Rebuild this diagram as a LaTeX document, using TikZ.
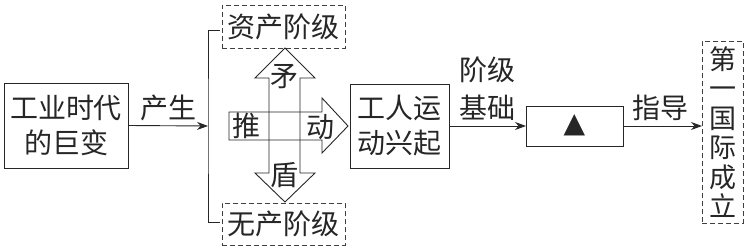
\documentclass[tikz,border=0pt]{standalone}
\usepackage{fontspec}
\setmainfont{Noto Sans CJK SC}
\newfontfamily\symfont{DejaVu Sans}
\usetikzlibrary{arrows.meta}
\begin{document}
\begin{tikzpicture}[x=1pt,y=-1pt,
  every node/.style={inner sep=0pt,outer sep=0pt,text=black!85,font=\fontsize{28}{35}\selectfont},
  solidbox/.style={draw=black!85,line width=0.9pt,align=center},
  dashbox/.style={draw=black!75,line width=0.9pt,dash pattern=on 5pt off 3pt,align=center},
  conn/.style={draw=black!85,line width=0.9pt,-{Stealth[length=11pt,width=8pt]}},
  line/.style={draw=black!85,line width=0.9pt},
  lbl/.style={align=center}]
\useasboundingbox (0,0) rectangle (753,249);
% boxes
\node[solidbox,minimum width=124pt,minimum height=85pt] (a) at (66,125.5) {工业时代\\的巨变};
\node[dashbox,minimum width=123pt,minimum height=43pt] (top) at (283.5,26.5) {资产阶级};
\node[dashbox,minimum width=123pt,minimum height=42pt] (bot) at (283.5,224) {无产阶级};
\node[solidbox,minimum width=99pt,minimum height=84pt] (b) at (399.5,126) {工人运\\动兴起};
\node[solidbox,minimum width=97pt,minimum height=40pt] (c) at (574.5,126) {};
\node[font=\symfont\fontsize{28}{30}\selectfont] (tri) at (574.5,125) {▲};
\node[dashbox,minimum width=41pt,minimum height=182pt,font=\fontsize{27}{29.5}\selectfont] (d) at (722.5,132) {第\\一\\国\\际\\成\\立};
% bracket
\coordinate (br) at (208,126);
\coordinate (bt) at (220,30);
\coordinate (bb) at (220,222);
\draw[line] (bt) -| (br) |- (bb);
% connectors
\draw[conn] (a.east) -- (br);
\draw[conn] (b.east) -- (c.west);
\draw[conn] (c.east) -- (d.west |- c.east);
% labels
\node[lbl] (l1) at (168,108) {产生};
\node[lbl,font=\fontsize{28}{38}\selectfont] (l2) at (487,89) {阶级\\基础};
\node[lbl] (l3) at (660,108) {指导};
% cross arrows
\draw[line,line join=miter] (229,112) -- (322,112) -- (322,98) -- (348,126) -- (322,153) -- (322,140) -- (229,140) -- cycle;
\draw[line,line join=miter] (269,78) -- (255,78) -- (285,48) -- (315,78) -- (300,78) -- (300,173) -- (315,173) -- (285,202) -- (255,173) -- (269,173) -- cycle;
\node (m1) at (284,77) {矛};
\node (m2) at (284,175) {盾};
\node (t1) at (246,126) {推};
\node (t2) at (320,127) {动};
\end{tikzpicture}
\end{document}
